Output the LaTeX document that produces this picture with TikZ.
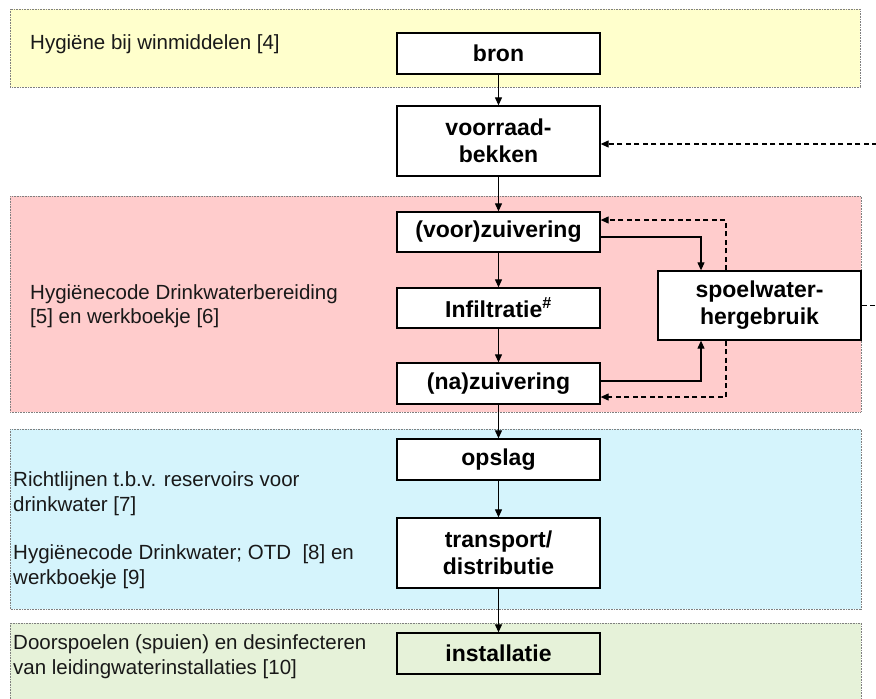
\documentclass[tikz,border=0pt]{standalone}
\usepackage{fontspec}
\setmainfont{Liberation Sans}
\usetikzlibrary{arrows.meta}
\definecolor{bandY}{HTML}{FFFFCC}
\definecolor{bandR}{HTML}{FFCCCC}
\definecolor{bandB}{HTML}{D5F4FC}
\definecolor{bandG}{HTML}{E6F2D9}
\definecolor{bandline}{HTML}{7F7F7F}
\begin{document}
\begin{tikzpicture}[x=1pt,y=-1pt,
  band/.style={draw=bandline, line width=0.8pt, dash pattern=on 0.8pt off 0.8pt},
  box/.style={draw=black, line width=1.3pt, fill=white, inner sep=0pt,
    minimum width=203pt, align=center,
    font=\bfseries\fontsize{23}{27}\selectfont},
  lbl/.style={inner sep=0pt, align=left, anchor=base west,
    font=\fontsize{20.5}{24.5}\selectfont, text=black!90},
  arr/.style={line width=1.1pt, -{Triangle[length=8pt,width=7pt]}},
  darr/.style={arr, dash pattern=on 5pt off 3.5pt}]
\useasboundingbox (0,0) rectangle (876,699);
\clip (0,0) rectangle (876,699);
\fill[white] (0,0) rectangle (876,699);
% bands
\path[band, fill=bandY] (10,9) rectangle (860,87);
\path[band, fill=bandR] (10,196) rectangle (861,412);
\path[band, fill=bandB] (10,429) rectangle (861,609);
\path[band, fill=bandG] (10,623) rectangle (861,705);
% boxes
\node[box, minimum height=41pt] (bron) at (498.5,53.5) {bron};
\node[box, minimum height=70pt] (voorraad) at (498.5,141) {voorraad-\\bekken};
\node[box, minimum height=40pt] (voor) at (498.5,232) {(voor)zuivering};
\node[box, minimum height=40pt] (infil) at (498.5,308) {Infiltratie\textsuperscript{\#}};
\node[box, minimum height=41pt] (na) at (498.5,383.5) {(na)zuivering};
\node[box, minimum height=69pt] (spoel) at (759.5,305.5) {spoelwater-\\hergebruik};
\node[box, minimum height=41pt] (opslag) at (498.5,459.5) {opslag};
\node[box, minimum height=70pt] (transport) at (498.5,553) {transport/\\distributie};
\node[box, minimum height=41pt, fill=bandG] (install) at (498.5,653.5) {installatie};
% labels (anchor = baseline of last line)
\node[lbl] (t1) at (30,49) {Hygiëne bij winmiddelen [4]};
\node[lbl] (t2) at (30,323.5) {Hygiënecode Drinkwaterbereiding\\{}[5] en werkboekje [6]};
\node[lbl] (t3) at (13,511) {Richtlijnen t.b.v. reservoirs voor\\drinkwater [7]};
\node[lbl] (t4) at (13,584) {Hygiënecode Drinkwater; OTD\ \ [8] en\\werkboekje [9]};
\node[lbl] (t5) at (13,674) {Doorspoelen (spuien) en desinfecteren\\van leidingwaterinstallaties [10]};
% main flow
\draw[arr] (bron) -- (voorraad);
\draw[arr] (voorraad) -- (voor);
\draw[arr] (voor) -- (infil);
\draw[arr] (infil) -- (na);
\draw[arr] (na) -- (opslag);
\draw[arr] (opslag) -- (transport);
\draw[arr] (transport) -- (install);
% spoelwater loops
\draw[arr] ([yshift=-5pt]voor.east) -| ([xshift=-58.5pt]spoel.north);
\draw[darr] ([xshift=-33.5pt]spoel.north) |- ([yshift=12pt]voor.east);
\draw[arr] ([yshift=2.5pt]na.east) -| ([xshift=-58.5pt]spoel.south);
\draw[darr] ([xshift=-33.5pt]spoel.south) |- ([yshift=-13.5pt]na.east);
\coordinate (fb) at (895,0);
\draw[darr] (spoel.east) -- (spoel.east -| fb) |- ([yshift=-3pt]voorraad.east);
\end{tikzpicture}
\end{document}
